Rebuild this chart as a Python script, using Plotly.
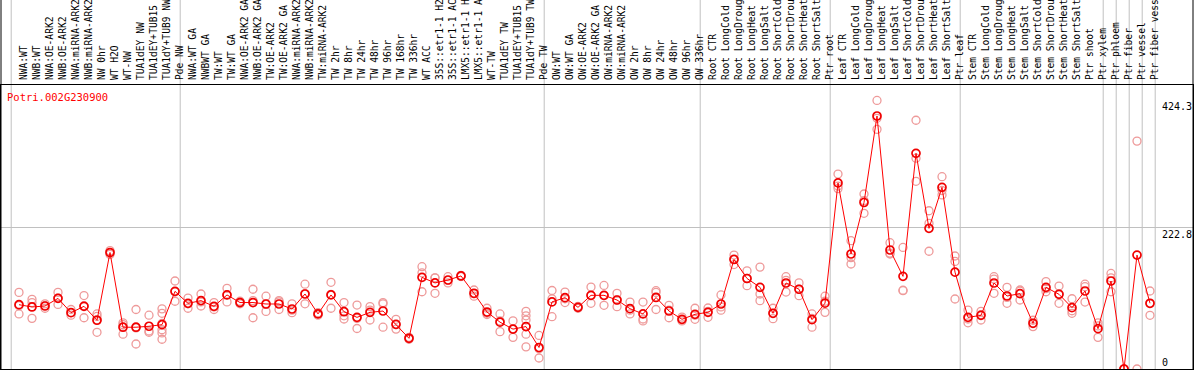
import plotly.graph_objects as go

gene_id = "Potri.002G230900"

labels = [
    "NWA:WT", "NWB:WT", "NWA:OE-ARK2", "NWB:OE-ARK2", "NWA:miRNA-ARK2", "NWB:miRNA-ARK2",
    "NW 0hr", "WT H2O", "WT-NW", "TUA1dEY NW", "TUA1dEY+TUB15", "TUA1dY+TUB9 NW", "Pde NW",
    "NWA:WT GA", "NWBWT GA", "TW:WT", "TW:WT GA", "NWA:OE-ARK2 GA", "NWB:OE-ARK2 GA",
    "TW:OE-ARK2", "TW:OE-ARK2 GA", "NWA:miRNA-ARK2", "NWB:miRNA-ARK2", "TW:miRNA-ARK2",
    "TW 2hr", "TW 8hr", "TW 24hr", "TW 48hr", "TW 96hr", "TW 168hr", "TW 336hr", "WT ACC",
    "35S::etr1-1 H2", "35S::etr1-1 AC", "LMX5::etr1-1 H", "LMX5::etr1-1 A", "WT-TW",
    "TUA1dEY TW", "TUA1dEY+TUB15", "TUA1dY+TUB9 TW", "Pde TW",
    "OW:WT", "OW:WT GA", "OW:OE-ARK2", "OW:OE-ARK2 GA", "OW:miRNA-ARK2", "OW:miRNA-ARK2",
    "OW 2hr", "OW 8hr", "OW 24hr", "OW 48hr", "OW 96hr", "OW 336hr",
    "Root CTR", "Root LongCold", "Root LongDroug", "Root LongHeat", "Root LongSalt",
    "Root ShortCold", "Root ShortDrou", "Root ShortHeat", "Root ShortSalt", "Ptr root",
    "Leaf CTR", "Leaf LongCold", "Leaf LongDroug", "Leaf LongHeat", "Leaf LongSalt",
    "Leaf ShortCold", "Leaf ShortDrou", "Leaf ShortHeat", "Leaf ShortSalt", "Ptr leaf",
    "Stem CTR", "Stem LongCold", "Stem LongDroug", "Stem LongHeat", "Stem LongSalt",
    "Stem ShortCold", "Stem ShortDrou", "Stem ShortHeat", "Stem ShortSalt", "Ptr shoot",
    "Ptr xylem", "Ptr phloem", "Ptr fiber", "Ptr vessel", "Ptr fiber vess",
]

means = [
    101.6, 98, 99.5, 111.6, 89, 99, 77, 184, 66, 66, 67.5, 70, 122.7,
    103.7, 108, 99, 117, 105, 105, 102.7, 102.7, 94.8, 118.5, 87, 117, 90.5, 81.6, 89.5,
    91.6, 70.6, 48.5, 144.8, 136, 140.6, 147, 119.6, 90, 74, 63, 67, 34,
    106, 112.7, 97.4, 116.4, 116.4, 109, 95.3, 87, 113, 91.6, 78.5, 86.4,
    89.6, 102.7, 173, 143, 129, 88, 135.9, 126, 77.9, 104,
    294, 181.7, 263, 399.7, 188, 146.4, 340.7, 222.2, 287, 153,
    81.6, 84.8, 135.9, 115.3, 119, 72.2, 129, 118, 96.9, 123.2, 63.7,
    139, 0, 180, 103.8,
]

replicates = [
    [121, 100, 87], [110, 105, 80], [103, 100, 96], [121, 112, 102], [94, 89, 85],
    [116, 100, 81], [87, 83, 78, 58], [187, 184, 181], [73, 70, 55], [94, 65, 39.5],
    [85, 60, 58], [95, 88, 72, 62, 57, 47], [139, 122, 107],
    [112, 103, 96], [118.5, 106, 99.5], [105, 98, 94], [127.5, 117, 106], [107, 105, 103],
    [126, 108, 81], [115, 102, 91], [108, 106, 94], [103, 93, 89], [134, 119, 103],
    [89, 87, 85], [137, 118, 96], [105, 84, 79], [101, 80, 64], [98.5, 93, 77.4],
    [105, 103, 66], [78.5, 70, 63], [50, 48.5, 47], [161.6, 152, 122], [144, 144, 119.6],
    [145.8, 140, 136], [148, 147, 146], [124.8, 119, 115], [96, 88, 86], [87, 76, 59],
    [76, 63, 50], [91, 84, 77.4, 67, 55, 35], [53, 32, 17.4],
    [124, 111, 82.6], [121.6, 111, 105], [99, 97, 96], [129.5, 116, 103.8],
    [132, 116, 100.6], [119.6, 109, 98.4], [105.8, 93, 87], [105.8, 79, 76],
    [123.7, 121, 94], [100.6, 93, 81], [82, 78, 76], [96, 85, 78.5],
    [96.4, 91, 81.7], [117, 98, 93], [180, 174, 165], [155, 143, 131.6], [161, 118.5, 108],
    [96, 88, 79.5], [145.8, 140, 121.6], [136, 126, 115.8], [87, 80, 66], [115, 107, 89.5],
    [308, 289, 285], [202.7, 176, 165.9], [276.5, 266, 246], [424.3, 396, 378.6],
    [199.5, 183, 181.7], [192, 124.5, 123.7], [393, 333, 296.5], [250, 230, 186],
    [303.8, 282, 275], [178.5, 170, 110.6],
    [93, 79, 73], [91, 86, 77.4], [145.8, 142, 119.6], [129, 113, 103.8], [124.8, 123, 109],
    [77, 72.6, 67], [138, 127, 122], [131, 119, 103.8], [111, 92, 88], [134, 130, 105.8],
    [73, 68, 50],
    [151, 144, 122], [0, 0, 0], [360, 0], [123.2, 103.4, 84.8],
]

group_sizes = [13, 28, 12, 10, 10, 11, 1, 1, 1, 1]
ref_value = 222.8

# ---------------- layout constants ----------------
W, H = 1194, 370
ML, MR, MT, MB = 1, 1, 85, 1
X0_PX, DX_PX = 19, 13.0          # pixel position of first sample, spacing
PX_PER_UNIT = 0.633
plot_w = W - ML - MR
plot_h = H - MT - MB
x_range = [-(X0_PX - ML) / DX_PX, (plot_w - (X0_PX - ML)) / DX_PX]
y_range = [0, plot_h / PX_PER_UNIT]
FONT = "DejaVu Sans Mono"
top_paper = 1 + MT / plot_h

xs = list(range(len(labels)))
rep_x, rep_y = [], []
for i, vals in enumerate(replicates):
    for v in vals:
        rep_x.append(i)
        rep_y.append(v)

fig = go.Figure()
fig.add_trace(go.Scatter(
    x=rep_x, y=rep_y, mode="markers",
    marker=dict(symbol="circle-open", size=8, color="#ee9a9a",
                line=dict(width=1.3, color="#ee9a9a")),
    hoverinfo="skip", showlegend=False,
))
fig.add_trace(go.Scatter(
    x=xs, y=means, mode="lines+markers",
    line=dict(color="#ff0000", width=1),
    marker=dict(symbol="circle-open", size=8, color="#f00000",
                line=dict(width=1.7, color="#f00000")),
    showlegend=False,
))

# group separators
shapes = []
starts = [0]
for g in group_sizes:
    starts.append(starts[-1] + g)
for s in starts:
    shapes.append(dict(type="line", xref="x", yref="paper", x0=s - 0.6, x1=s - 0.6,
                       y0=0, y1=top_paper + 0.05, line=dict(color="#c0c0c0", width=1),
                       layer="below"))
for xp in (0, 1):
    shapes.append(dict(type="line", xref="paper", yref="paper", x0=xp, x1=xp,
                       y0=0, y1=top_paper + 0.05, line=dict(color="black", width=1)))

all_vals = [v for vals in replicates for v in vals]
vmax = max(all_vals)
label_x = (1161 - ML) / plot_w
annotations = [
    dict(text=f"{vmax:.1f}", x=label_x, y=vmax, xref="paper", yref="y",
         xanchor="left", yanchor="top", showarrow=False, borderpad=0,
         font=dict(family=FONT, size=10, color="black")),
    dict(text=f"{ref_value:.1f}", x=label_x, y=ref_value, xref="paper", yref="y",
         xanchor="left", yanchor="top", showarrow=False, borderpad=0,
         font=dict(family=FONT, size=10, color="black")),
    dict(text="0", x=label_x, y=0, xref="paper", yref="y",
         xanchor="left", yanchor="bottom", showarrow=False, borderpad=0,
         font=dict(family=FONT, size=10, color="black")),
    dict(text=gene_id, x=(6 - ML) / plot_w, y=1 - 12 / plot_h, xref="paper", yref="paper",
         xanchor="left", yanchor="middle", showarrow=False, borderpad=0,
         font=dict(family=FONT, size=10.5, color="#ff0000")),
]

fig.update_layout(
    width=W, height=H,
    margin=dict(l=ML, r=MR, t=MT, b=MB, pad=0),
    paper_bgcolor="white", plot_bgcolor="white",
    shapes=shapes, annotations=annotations,
    showlegend=False,
    xaxis=dict(range=x_range, side="top", tickmode="array", tickvals=xs, ticktext=labels,
               tickangle=-90, ticks="", showgrid=False, zeroline=False,
               showline=True, linecolor="black", linewidth=1, mirror=True,
               ticklabelshift=5, ticklabelstandoff=2,
               automargin=False, tickfont=dict(family=FONT, size=9.6, color="black")),
    yaxis=dict(range=y_range, tickmode="array", tickvals=[ref_value], showticklabels=False,
               showgrid=True, gridcolor="#c0c0c0", gridwidth=1, zeroline=False,
               showline=True, linecolor="black", linewidth=1, mirror=True,
               automargin=False, ticks=""),
)

fig.write_html("out.html", config={"displayModeBar": False},
               post_script="document.body.style.margin='0';document.body.style.padding='0';")
